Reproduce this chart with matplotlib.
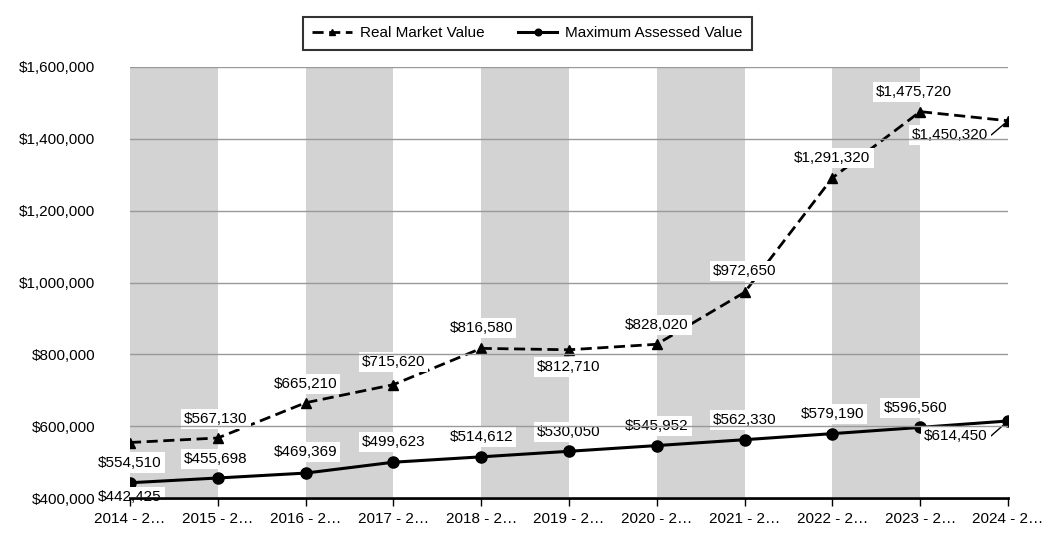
import matplotlib.pyplot as plt
from matplotlib.ticker import FuncFormatter

plt.rcParams['font.family'] = ['Liberation Sans', 'DejaVu Sans']

# data
years = ['2014 - 2…', '2015 - 2…', '2016 - 2…', '2017 - 2…', '2018 - 2…', '2019 - 2…',
         '2020 - 2…', '2021 - 2…', '2022 - 2…', '2023 - 2…', '2024 - 2…']
real_market = [554510, 567130, 665210, 715620, 816580, 812710,
               828020, 972650, 1291320, 1475720, 1450320]
max_assessed = [442425, 455698, 469369, 499623, 514612, 530050,
                545952, 562330, 579190, 596560, 614450]

# label offsets in pixels (dx, dy)
real_offsets = [(0, -20), (-2, 19), (0, 19), (0, 23), (0, 20), (0, -17),
                (0, 19), (0, 21), (0, 20), (-6, 20), (-58, -14)]
max_offsets = [(0, -14), (-2, 19), (0, 21), (0, 20), (0, 20), (0, 19),
               (0, 20), (0, 20), (0, 20), (-5, 19), (-52, -15)]

fig = plt.figure(figsize=(10.61, 5.38), dpi=100)
ax = fig.add_axes([130 / 1061, 40 / 538, 878 / 1061, 431 / 538])

x = list(range(len(years)))

# alternating grey bands
for i in range(0, len(years) - 1, 2):
    ax.axvspan(i, i + 1, color='#d3d3d3', lw=0, zorder=0)

ax.plot(x, real_market, color='black', ls=(0, (4, 2)), lw=2, marker='^', ms=7,
        label='Real Market Value', zorder=2)
ax.plot(x, max_assessed, color='black', ls='-', lw=2.2, marker='o', ms=8,
        label='Maximum Assessed Value', zorder=2)


def label_points(vals, offs):
    for xi, v, (dx, dy) in zip(x, vals, offs):
        arrow = None
        if abs(dx) > 20 and xi == x[-1]:
            arrow = dict(arrowstyle='-', color='black', lw=1, shrinkA=0, shrinkB=3,
                         relpos=(1, 0.3))
        ax.annotate('${:,}'.format(v), (xi, v), xytext=(dx * 0.72, dy * 0.72),
                    textcoords='offset points', ha='center', va='center', fontsize=11,
                    bbox=dict(boxstyle='square,pad=0.2', fc='white', ec='none'),
                    arrowprops=arrow, zorder=2.4, annotation_clip=False)


label_points(real_market, real_offsets)
label_points(max_assessed, max_offsets)

ax.set_xlim(0, len(years) - 1)
ax.set_ylim(400000, 1600000)
ax.set_yticks(range(400000, 1600001, 200000))
ax.yaxis.set_major_formatter(FuncFormatter(lambda v, p: '${:,.0f}'.format(v)))
ax.set_xticks(x)
ax.set_xticklabels(years)
ax.grid(axis='y', color='#999999', lw=1, zorder=1)
ax.set_axisbelow(False)
ax.tick_params(axis='y', length=0, pad=25, labelsize=11)
ax.tick_params(axis='x', length=6, width=1, pad=4, labelsize=11)

for s in ['left', 'right', 'top']:
    ax.spines[s].set_visible(False)
ax.spines['bottom'].set_linewidth(2)
ax.spines['bottom'].set_zorder(2.5)

leg = fig.legend(loc='upper center', bbox_to_anchor=(0.497, 0.968), ncol=2, fontsize=11,
                 frameon=True, fancybox=False, edgecolor='black', handlelength=2.6,
                 handletextpad=0.5, columnspacing=2.2, borderpad=0.6, borderaxespad=0,
                 markerscale=0.6)
leg.get_frame().set_linewidth(1.5)

fig.savefig('out.png', dpi=100)
